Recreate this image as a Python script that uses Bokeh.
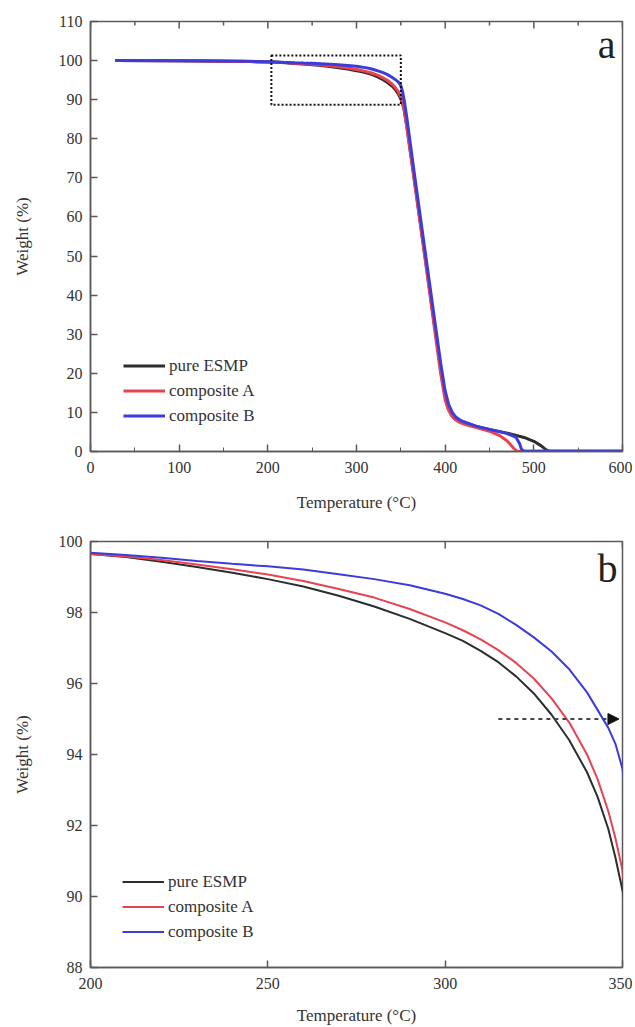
import math
from bokeh.plotting import figure
from bokeh.layouts import column
from bokeh.models import (Range1d, SingleIntervalTicker, Legend, LegendItem,
                          Label, Arrow, NormalHead, BoxAnnotation)
from bokeh.embed import file_html
from bokeh.resources import INLINE

FONT = "Liberation Serif"

# ---------------- data ----------------
series_names = ["pure ESMP", "composite A", "composite B"]
series_colors = ["#2a2f2c", "#e8434f", "#3c3cdc"]

T_esmp = [28, 100, 150, 180, 200, 210, 220, 230, 240, 250, 260, 270, 280, 290,
          300, 305, 310, 315, 320, 325, 330, 335, 340, 343, 346, 348, 350,
          352, 354, 357, 365, 376, 387, 395, 400, 402, 406, 410, 415, 421,
          435, 451, 470, 489, 500, 508, 514, 518, 600]
W_esmp = [100, 99.95, 99.85, 99.75, 99.65, 99.56, 99.43, 99.28, 99.12, 98.94,
          98.73, 98.47, 98.17, 97.82, 97.42, 97.2, 96.92, 96.6, 96.2, 95.72,
          95.12, 94.4, 93.5, 92.8, 91.9, 91.1, 90.17, 88.9, 87.0, 82.8, 70.0,
          52.0, 34.0, 21.0, 14.2, 12.0, 10.0, 8.9, 8.0, 7.4, 6.4, 5.6, 4.7,
          3.6, 2.6, 1.5, 0.4, 0.05, 0.05]

T_compA = [28, 100, 150, 180, 200, 210, 220, 230, 240, 250, 260, 270, 280, 290,
           300, 305, 310, 315, 320, 325, 330, 335, 340, 343, 346, 348, 350,
           352, 354, 357, 365, 376, 387, 395, 400, 403, 407, 411, 416, 421,
           435, 451, 462, 470, 477, 481, 600]
W_compA = [100, 99.95, 99.85, 99.75, 99.65, 99.58, 99.48, 99.35, 99.22, 99.07,
           98.89, 98.66, 98.42, 98.1, 97.72, 97.5, 97.24, 96.94, 96.58, 96.14,
           95.58, 94.9, 94.0, 93.3, 92.4, 91.65, 90.73, 89.2, 87.2, 82.5, 69.5,
           51.5, 33.0, 19.8, 13.2, 11.0, 9.2, 8.2, 7.5, 7.0, 6.1, 5.1, 4.0,
           2.7, 0.9, 0.05, 0.05]

T_compB = [28, 100, 150, 180, 200, 210, 220, 230, 240, 250, 260, 270, 280, 290,
           300, 305, 310, 315, 320, 325, 330, 335, 340, 343, 346, 348, 350,
           352, 354, 357, 365, 376, 387, 395, 400, 404, 408, 412, 417, 421,
           435, 451, 470, 480, 484, 486, 489, 600]
W_compB = [100, 99.97, 99.9, 99.8, 99.68, 99.62, 99.54, 99.45, 99.37, 99.3,
           99.21, 99.08, 98.94, 98.77, 98.53, 98.38, 98.2, 97.96, 97.65, 97.3,
           96.9, 96.4, 95.75, 95.25, 94.75, 94.3, 93.6, 92.0, 89.6, 85.0, 71.5,
           53.5, 35.5, 22.5, 15.5, 12.0, 10.0, 8.8, 8.0, 7.6, 6.5, 5.6, 4.6,
           3.6, 2.0, 0.6, 0.05, 0.05]

series_T = [T_esmp, T_compA, T_compB]
series_W = [W_esmp, W_compA, W_compB]

# panel a axes
a_xrange = [0, 600]
a_yrange = [0, 110]
a_xstep, a_xminor_step, a_ystep = 100, 50, 10
zoom_box = [204, 350, 88.7, 101.3]  # left, right, bottom, top

# panel b axes
b_xrange = [200, 350]
b_yrange = [88, 100]
b_xstep, b_ystep = 50, 2
arrow_T = [315, 349]
arrow_W = 95

AXIS_COLOR = "#5a5a5a"
TEXT_COLOR = "#333333"


def make_fig(height, xr, yr, top_b, bottom_b, xstep, xminor, ystep, lw,
             legend_loc, xlab_standoff, xtitle_standoff, minor_step):
    p = figure(width=632, height=height,
               x_range=Range1d(*xr), y_range=Range1d(*yr),
               output_backend="svg", toolbar_location=None,
               min_border_left=90, min_border_right=10,
               min_border_top=top_b, min_border_bottom=bottom_b)
    p.grid.visible = False
    p.outline_line_color = AXIS_COLOR
    p.outline_line_width = 1.5
    p.background_fill_color = "white"
    p.border_fill_color = "white"

    xa = p.xaxis[0]
    ya = p.yaxis[0]
    xa.ticker = SingleIntervalTicker(interval=xstep, num_minor_ticks=xminor)
    ya.ticker = SingleIntervalTicker(interval=ystep, num_minor_ticks=0)
    for ax in (xa, ya):
        ax.axis_line_color = AXIS_COLOR
        ax.axis_line_width = 1.5
        ax.major_tick_line_color = AXIS_COLOR
        ax.minor_tick_line_color = AXIS_COLOR
        ax.major_tick_line_width = 1.5
        ax.major_tick_in = 7
        ax.major_tick_out = 0
        ax.minor_tick_in = 4
        ax.minor_tick_out = 0
        ax.major_label_text_font = FONT
        ax.major_label_text_font_size = "16px"
        ax.major_label_text_color = TEXT_COLOR
        ax.axis_label_text_font = FONT
        ax.axis_label_text_font_size = "17px"
        ax.axis_label_text_font_style = "normal"
        ax.axis_label_text_color = TEXT_COLOR
    xa.axis_label = "Temperature (\u00b0C)"
    ya.axis_label = "Weight (%)"
    xa.major_label_standoff = xlab_standoff
    xa.axis_label_standoff = xtitle_standoff
    ya.major_label_standoff = 8
    ya.axis_label_standoff = 24

    # inward tick marks along the top edge (no labels)
    top_major = list(range(xr[0], xr[1] + 1, xstep))
    p.ray(x=top_major, y=[yr[1]] * len(top_major), length=7,
          length_units="screen", angle=-math.pi / 2,
          line_color=AXIS_COLOR, line_width=1.5)
    if minor_step:
        top_minor = [t for t in range(xr[0], xr[1] + 1, minor_step)
                     if t not in top_major]
        p.ray(x=top_minor, y=[yr[1]] * len(top_minor), length=4,
              length_units="screen", angle=-math.pi / 2,
              line_color=AXIS_COLOR, line_width=1.5)

    items = []
    for name, col, T, W in zip(series_names, series_colors, series_T, series_W):
        r = p.line(T, W, line_color=col, line_width=lw)
        items.append(LegendItem(label=name, renderers=[r]))
    leg = Legend(items=items, location=legend_loc, orientation="vertical",
                 padding=0, margin=0, spacing=0, glyph_width=42,
                 glyph_height=25, label_height=25, label_standoff=4,
                 label_text_font=FONT, label_text_font_size="17px",
                 label_text_color=TEXT_COLOR, border_line_alpha=0,
                 background_fill_alpha=0)
    p.add_layout(leg)
    return p


pa = make_fig(521, a_xrange, a_yrange, 21, 70, a_xstep, 2, a_ystep, 3,
              (33, 23), 10, 17, a_xminor_step)
pa.add_layout(BoxAnnotation(left=zoom_box[0], right=zoom_box[1],
                            bottom=zoom_box[2], top=zoom_box[3],
                            fill_alpha=0, line_color="#111111", line_alpha=1.0,
                            line_dash="2 2", line_width=2))
pa.add_layout(Label(x=592, y=104.0, text="a", text_font=FONT,
                    text_font_size="40px", text_align="right",
                    text_baseline="alphabetic", text_color="#222222"))

pb = make_fig(506, b_xrange, b_yrange, 20, 60, b_xstep, 0, b_ystep, 2,
              (32, 23), 10, 14, 0)
pb.add_layout(Arrow(x_start=arrow_T[0], y_start=arrow_W, x_end=arrow_T[1],
                    y_end=arrow_W, line_dash="4 4", line_width=2,
                    line_color="#444444",
                    end=NormalHead(size=11, fill_color="#111111",
                                   line_color="#111111", line_width=1)))
pb.add_layout(Label(x=348.6, y=99.25, text="b", text_font=FONT,
                    text_font_size="40px", text_align="right",
                    text_baseline="alphabetic", text_color="#222222"))

layout = column(pa, pb, spacing=0)
open("out.html", "w").write(file_html(layout, INLINE))
